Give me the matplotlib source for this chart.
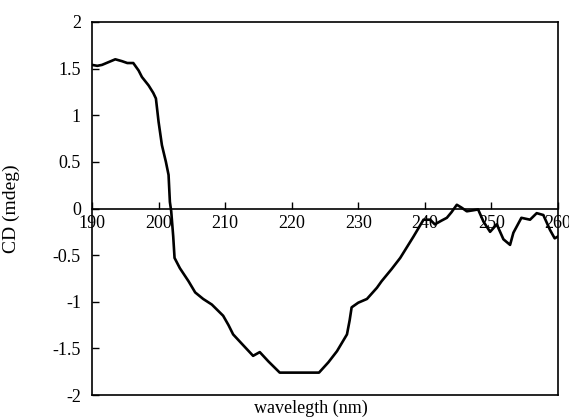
import matplotlib.pyplot as plt

plt.rcParams['font.family'] = ['Liberation Serif', 'DejaVu Serif']

# CD spectrum
wavelength = [190.0, 190.8, 191.5, 192.5, 193.5, 194.5, 195.3, 196.2, 197.0, 197.5,
              198.5, 199.2, 199.6, 200.0, 200.5, 201.1, 201.5, 201.7, 201.9, 202.2,
              202.4, 203.2, 204.5, 205.5, 206.7, 208.0, 209.7, 210.5, 211.2, 212.5,
              214.2, 214.7, 215.2, 216.5, 218.2, 221.0, 224.1, 225.5, 226.8, 228.3,
              228.7, 229.0, 230.0, 231.3, 232.8, 233.5, 235.0, 236.3, 238.3, 239.8,
              240.8, 241.5, 242.5, 243.3, 244.0, 244.8, 245.5, 246.3, 247.2, 248.0,
              248.8, 249.8, 250.8, 251.8, 252.8, 253.3, 254.5, 255.8, 256.8, 257.8,
              258.8, 259.5, 260.0]
cd = [1.54, 1.53, 1.54, 1.57, 1.60, 1.58, 1.56, 1.56, 1.48, 1.41,
      1.32, 1.24, 1.18, 0.93, 0.68, 0.50, 0.36, 0.07, -0.03, -0.30,
      -0.53, -0.64, -0.78, -0.90, -0.97, -1.03, -1.15, -1.25, -1.35, -1.45,
      -1.58, -1.56, -1.54, -1.64, -1.76, -1.76, -1.76, -1.65, -1.53, -1.35,
      -1.20, -1.06, -1.01, -0.97, -0.85, -0.78, -0.65, -0.53, -0.30, -0.12,
      -0.12, -0.17, -0.13, -0.10, -0.04, 0.04, 0.01, -0.03, -0.02, -0.01,
      -0.14, -0.25, -0.17, -0.33, -0.39, -0.26, -0.10, -0.12, -0.05, -0.07,
      -0.23, -0.32, -0.30]

xticks = [190, 200, 210, 220, 230, 240, 250, 260]
yticks = [-2, -1.5, -1, -0.5, 0, 0.5, 1, 1.5, 2]
ytick_labels = ['-2', '-1.5', '-1', '-0.5', '0', '0.5', '1', '1.5', '2']

fig = plt.figure(figsize=(5.69, 4.17), dpi=100)
ax = fig.add_axes([92 / 569, 22 / 417, 466 / 569, 373 / 417])

ax.plot(wavelength, cd, color='black', lw=1.9)

ax.set_xlim(190, 260)
ax.set_ylim(-2, 2)

# x axis sits on the zero line, box closed at the bottom with a plain line
ax.spines['bottom'].set_position(('data', 0))
ax.axhline(-2, color='black', lw=1.2, clip_on=False)
for s in ax.spines.values():
    s.set_linewidth(1.2)

ax.set_xticks(xticks)
ax.set_xticklabels([str(t) for t in xticks])
ax.set_yticks(yticks)
ax.set_yticklabels(ytick_labels)
ax.tick_params(axis='x', which='major', direction='in', bottom=True, top=False,
               length=5, width=1, color='black', labelsize=13, pad=5)
ax.tick_params(axis='y', which='major', direction='in', left=True, right=False,
               length=5, width=1, color='black', labelsize=13, pad=8)

ax.set_ylabel('CD (mdeg)', fontsize=14)
ax.yaxis.set_label_coords(-0.155, 0.5)
ax.set_xlabel('wavelegth (nm)', fontsize=13)
ax.xaxis.set_label_coords(0.47, -0.012)

fig.savefig('out.png', dpi=100)
